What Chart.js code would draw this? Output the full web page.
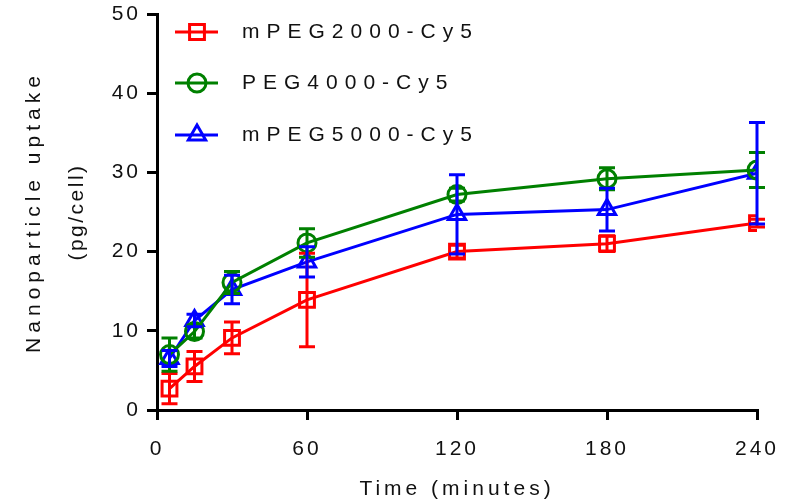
<!DOCTYPE html>
<html>
<head>
<meta charset="utf-8">
<script src="https://cdn.jsdelivr.net/npm/chart.js@4.4.1/dist/chart.umd.min.js"></script>
<style>
  html, body { margin: 0; padding: 0; background: #fff; }
  #wrap { width: 802px; height: 503px; }
</style>
</head>
<body>
<div id="wrap"><canvas id="uptake" width="802" height="503"></canvas></div>
<script>
// time points (minutes)
const times = [5, 15, 30, 60, 120, 180, 240];
const xTicks = [0, 60, 120, 180, 240];

// mean uptake (pg/cell) and error bars
const mpeg2000 = [2.7, 5.5, 9.1, 13.9, 20.0, 21.0, 23.6];
const mpeg2000Err = [1.9, 1.9, 2.0, 5.9, 0.8, 1.0, 0.5];
const peg4000 = [7.0, 9.9, 16.1, 21.1, 27.2, 29.2, 30.3];
const peg4000Err = [2.1, 0.8, 1.4, 1.8, 0.8, 1.4, 2.2];
const mpeg5000 = [6.5, 11.3, 15.2, 18.7, 24.7, 25.3, 29.9];
const mpeg5000Err = [1.0, 0.8, 1.8, 1.9, 5.0, 2.7, 6.4];

const labels = ['mPEG2000-Cy5', 'PEG4000-Cy5', 'mPEG5000-Cy5'];
const yTitle = ['Nanoparticle uptake', '(pg/cell)'];
const FONT = "'Liberation Sans', Arial, sans-serif";

// spaced-out axis titles like the original figure
if (Chart.LinearScale) {
    const origDrawTitle = Chart.LinearScale.prototype.drawTitle;
    Chart.LinearScale.prototype.drawTitle = function () {
        const prev = this.ctx.letterSpacing;
        this.ctx.letterSpacing = '4px';
        origDrawTitle.call(this);
        this.ctx.letterSpacing = prev;
    };
}

function toPoints(ys) {
    return times.map((t, i) => ({x: t, y: ys[i]}));
}

function makeSet(label, ys, errs, color, style, radius) {
    return {
        label: label,
        data: toPoints(ys),
        errors: errs,
        borderColor: color,
        backgroundColor: 'transparent',
        borderWidth: 3,
        pointStyle: style,
        pointRadius: radius,
        pointBorderWidth: 3,
        pointBackgroundColor: 'transparent',
        pointBorderColor: color,
        tension: 0,
        fill: false
    };
}

const spacing = {
    id: 'spacing',
    beforeDraw(chart) {
        chart.ctx.letterSpacing = '3px';
    }
};

const errorBars = {
    id: 'errorBars',
    afterDatasetsDraw(chart) {
        const ctx = chart.ctx;
        const xs = chart.scales.x, ys = chart.scales.y;
        ctx.save();
        chart.data.datasets.forEach(ds => {
            ctx.strokeStyle = ds.borderColor;
            ctx.lineWidth = 3;
            ds.data.forEach((p, i) => {
                const e = ds.errors[i];
                const x = xs.getPixelForValue(p.x);
                const y1 = ys.getPixelForValue(p.y + e);
                const y2 = ys.getPixelForValue(p.y - e);
                ctx.beginPath();
                ctx.moveTo(x, y1); ctx.lineTo(x, y2);
                ctx.moveTo(x - 8, y1); ctx.lineTo(x + 8, y1);
                ctx.moveTo(x - 8, y2); ctx.lineTo(x + 8, y2);
                ctx.stroke();
            });
        });
        ctx.restore();
    }
};

// y title drawn by hand: the two lines are spaced differently in the original
const yTitleText = {
    id: 'yTitleText',
    afterDraw(chart) {
        const ctx = chart.ctx;
        const midY = (chart.chartArea.top + chart.chartArea.bottom) / 2;
        const cols = [34, 77];
        const gaps = ['5px', '2.5px'];
        ctx.save();
        ctx.fillStyle = '#111';
        ctx.font = '21px ' + FONT;
        ctx.textAlign = 'center';
        ctx.textBaseline = 'middle';
        yTitle.forEach((line, i) => {
            ctx.save();
            ctx.letterSpacing = gaps[i];
            ctx.translate(cols[i], midY);
            ctx.rotate(-Math.PI / 2);
            ctx.fillText(line, 0, 0);
            ctx.restore();
        });
        ctx.restore();
    }
};

const legendBox = {
    id: 'legendBox',
    afterDraw(chart) {
        const ctx = chart.ctx;
        const rows = [32, 83, 135];
        ctx.save();
        chart.data.datasets.forEach((ds, i) => {
            const y = rows[i];
            ctx.strokeStyle = ds.borderColor;
            ctx.fillStyle = 'rgba(0,0,0,0)';
            ctx.lineWidth = 3;
            ctx.beginPath();
            ctx.moveTo(175, y); ctx.lineTo(218, y);
            ctx.stroke();
            Chart.helpers.drawPoint(ctx, {
                pointStyle: ds.pointStyle,
                radius: ds.pointRadius,
                borderWidth: 3
            }, 197, y);
            ctx.letterSpacing = '7px';
            ctx.fillStyle = '#111';
            ctx.font = '21px ' + FONT;
            ctx.textAlign = 'left';
            ctx.textBaseline = 'middle';
            ctx.fillText(ds.label, 242, y);
        });
        ctx.restore();
    }
};

new Chart(document.getElementById('uptake'), {
    type: 'line',
    plugins: [spacing, errorBars, yTitleText, legendBox],
    data: {
        datasets: [
            makeSet(labels[0], mpeg2000, mpeg2000Err, '#ff0000', 'rect', 10.5),
            makeSet(labels[1], peg4000, peg4000Err, '#008000', 'circle', 9),
            makeSet(labels[2], mpeg5000, mpeg5000Err, '#0000ff', 'triangle', 10)
        ]
    },
    options: {
        responsive: false,
        animation: false,
        layout: {
            autoPadding: false,
            padding: {left: 0, top: 14, right: 45, bottom: 0}
        },
        plugins: {
            legend: {display: false},
            tooltip: {enabled: false}
        },
        scales: {
            x: {
                type: 'linear',
                min: 0,
                max: 240,
                afterFit: s => { s.height = 93; s.paddingLeft = 0; s.paddingRight = 0; },
                afterBuildTicks: s => { s.ticks = xTicks.map(v => ({value: v})); },
                border: {color: '#000', width: 3},
                grid: {drawOnChartArea: false, color: '#000', lineWidth: 3, tickLength: 10},
                ticks: {color: '#111', padding: 17, maxRotation: 0, font: {family: FONT, size: 21}},
                title: {
                    display: true,
                    text: 'Time (minutes)',
                    color: '#111',
                    padding: {top: 0, bottom: 1},
                    font: {family: FONT, size: 21}
                }
            },
            y: {
                min: 0,
                max: 50,
                afterFit: s => { s.width = 157; s.paddingTop = 0; s.paddingBottom = 0; },
                border: {color: '#000', width: 3},
                grid: {drawOnChartArea: false, color: '#000', lineWidth: 3, tickLength: 10},
                ticks: {color: '#111', stepSize: 10, padding: 6, font: {family: FONT, size: 21}},
                title: {display: false}
            }
        }
    }
});
</script>
</body>
</html>
